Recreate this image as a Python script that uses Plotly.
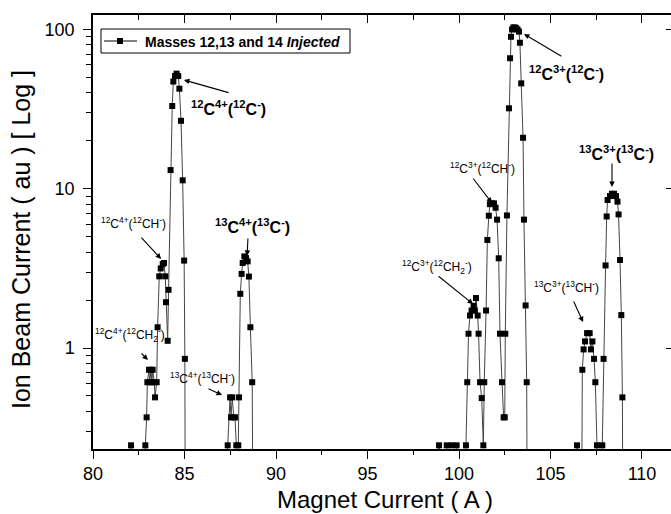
import plotly.graph_objects as go

# ---------------- data ----------------
# Magnet current (A) and ion beam current (au); 0 = no signal (below log axis)
current_12c4 = [82.00, 82.08, 82.15, 82.80, 82.86, 82.93, 82.97, 83.06, 83.10, 83.17,
                83.22, 83.26, 83.35, 83.39, 83.48, 83.53, 83.62, 83.70, 83.81, 83.88,
                83.95, 83.99, 84.08, 84.13, 84.24, 84.33, 84.39, 84.48, 84.57, 84.66,
                84.72, 84.81, 84.90, 84.98, 85.02, 85.06]
signal_12c4 = [0, 0.245, 0, 0, 0.245, 0.367, 0.61, 0.73, 0.61, 0.73,
               0.61, 0.73, 0.61, 0.49, 0.61, 1.35, 2.82, 3.16, 3.37, 3.42,
               2.82, 1.94, 1.11, 2.32, 13.1, 33.1, 47.1, 51.1, 52.8, 51.0,
               42.5, 26.7, 11.3, 3.54, 0.855, 0]

current_13c4 = [87.30, 87.36, 87.49, 87.54, 87.61, 87.69, 87.76, 87.83, 87.94, 87.98,
                88.05, 88.12, 88.18, 88.27, 88.36, 88.45, 88.52, 88.60, 88.70, 88.78]
signal_13c4 = [0, 0.245, 0.49, 0.367, 0.49, 0.367, 0.367, 0.245, 0.245, 0.49,
               2.19, 2.92, 3.42, 3.76, 3.67, 3.5, 2.81, 1.35, 0.61, 0]

current_12c3 = [98.85, 98.91, 98.97, 99.27, 99.33, 99.60, 99.87, 99.93, 100.32, 100.38,
                100.45, 100.52, 100.60, 100.69, 100.80, 100.86, 100.93, 101.02, 101.07, 101.15,
                101.24, 101.33, 101.38, 101.48, 101.55, 101.63, 101.69, 101.80, 101.91, 102.00,
                102.08, 102.17, 102.24, 102.35, 102.44, 102.50, 102.53, 102.62, 102.73, 102.79,
                102.84, 102.90, 102.97, 103.05, 103.12, 103.20, 103.28, 103.33, 103.40, 103.50,
                103.55, 103.64, 103.70, 103.75]
signal_12c3 = [0, 0.245, 0, 0, 0.245, 0.245, 0.245, 0, 0, 0.245,
               0.61, 1.23, 1.6, 1.72, 1.84, 1.72, 2.06, 1.6, 1.23, 0.61,
               0.485, 0.245, 0.61, 1.72, 4.77, 6.77, 8.0, 8.1, 8.1, 7.6,
               6.4, 3.66, 1.23, 0.61, 0.367, 0.367, 1.23, 6.8, 32.0, 66.0,
               90.0, 100.0, 103.0, 103.0, 102.0, 100.0, 97.0, 82.6, 45.9, 20.9,
               6.4, 1.85, 0.61, 0]

current_13c3 = [106.40, 106.45, 106.50, 106.66, 106.74, 106.81, 106.89, 107.00, 107.14, 107.21,
                107.29, 107.38, 107.45, 107.54, 107.60, 107.78, 107.83, 107.90, 108.01, 108.07,
                108.12, 108.25, 108.36, 108.47, 108.58, 108.66, 108.72, 108.80, 108.87, 108.93,
                108.98]
signal_13c3 = [0, 0.245, 0, 0, 0.73, 0.98, 1.1, 1.24, 1.24, 0.98,
               1.1, 0.855, 0.61, 0.245, 0, 0, 0.245, 0.855, 3.3, 6.7,
               8.5, 9.0, 9.3, 9.3, 9.0, 8.3, 6.9, 3.57, 1.61, 0.49,
               0]

x_ticks = [80, 85, 90, 95, 100, 105, 110]
y_ticks = [1, 10, 100]
y_ticktext = ["1", "10", "100"]

series_name = "<b>Masses 12,13 and 14 <i>Injected</i></b>"

# peak labels: (text, label x, label log10 y, font size, bold, arrow head x, head log y, tail x, tail log y)
labels = [
    ("<sup>12</sup>C<sup>4+</sup>(<sup>12</sup>C<sup>-</sup>)", 87.38, 1.507, 16, True, 84.97, 1.683, 87.49, 1.601),
    ("<sup>12</sup>C<sup>4+</sup>(<sup>12</sup>CH<sup>-</sup>)", 82.24, 0.785, 12, False, 83.72, 0.559, 82.57, 0.703),
    ("<sup>12</sup>C<sup>4+</sup>(<sup>12</sup>CH<sub>2</sub><sup>-</sup>)", 82.02, 0.082, 12, False, 83.00, -0.075, 82.57, -0.025),
    ("<sup>13</sup>C<sup>4+</sup>(<sup>13</sup>C<sup>-</sup>)", 88.74, 0.766, 16, True, 88.42, 0.578, 88.47, 0.697),
    ("<sup>13</sup>C<sup>4+</sup>(<sup>13</sup>CH<sup>-</sup>)", 85.96, -0.188, 12, False, 87.05, -0.295, 86.23, -0.251),
    ("<sup>12</sup>C<sup>3+</sup>(<sup>12</sup>C<sup>-</sup>)", 105.90, 1.727, 16, True, 103.55, 1.972, 105.68, 1.827),
    ("<sup>13</sup>C<sup>3+</sup>(<sup>13</sup>C<sup>-</sup>)", 108.63, 1.224, 16, True, 108.36, 1.011, 108.36, 1.168),
    ("<sup>12</sup>C<sup>3+</sup>(<sup>12</sup>CH<sup>-</sup>)", 101.26, 1.130, 12, False, 101.80, 0.911, 100.71, 1.074),
    ("<sup>12</sup>C<sup>3+</sup>(<sup>12</sup>CH<sub>2</sub><sup>-</sup>)", 98.80, 0.509, 12, False, 100.77, 0.276, 98.80, 0.458),
    ("<sup>13</sup>C<sup>3+</sup>(<sup>13</sup>CH<sup>-</sup>)", 105.85, 0.383, 12, False, 106.78, 0.163, 106.23, 0.301),
]

# ---------------- figure ----------------
FONT = "Arial, Liberation Sans, sans-serif"
X_RANGE = [80, 111.585]
Y_RANGE = [-0.634, 2.091]
FLOOR = 0.01  # zero readings are drawn below the visible log range
W, H = 671, 514
ML, MR, MT, MB = 93, 0, 15, 65
PW, PH = W - ML - MR, H - MT - MB


def px(xp):
    return (xp - ML) / PW


def py(yp):
    return (H - MB - yp) / PH


xs = current_12c4 + current_13c4 + current_12c3 + current_13c3
ys_raw = signal_12c4 + signal_13c4 + signal_12c3 + signal_13c3
ys = [v if v > 0 else FLOOR for v in ys_raw]

LINE_COLOR = "#444444"

fig = go.Figure()
fig.add_trace(go.Scatter(
    x=xs, y=ys, mode="lines+markers", name=series_name,
    line=dict(color=LINE_COLOR, width=1),
    marker=dict(symbol="square", size=6, color="black"),
    cliponaxis=True, hoverinfo="x+y", showlegend=False,
))
# helper trace so the mirrored top/right axes are drawn
fig.add_trace(go.Scatter(x=[95], y=[1], xaxis="x2", yaxis="y2", mode="markers",
                         marker=dict(opacity=0), showlegend=False, hoverinfo="skip"))

minor_x = [v + 2.5 for v in x_ticks[:-1]]
minor_y = [m * d for d in (0.1, 1, 10) for m in range(2, 10) if 0.23 < m * d < 123]

axis_common = dict(showgrid=False, zeroline=False, linecolor="black", tickcolor="black")

fig.update_layout(
    width=W, height=H,
    margin=dict(l=ML, r=MR, t=MT, b=MB),
    paper_bgcolor="white", plot_bgcolor="white",
    font=dict(family=FONT, color="black"),
    showlegend=False,
    xaxis=dict(range=X_RANGE, tickvals=x_ticks, ticks="outside", ticklen=8, tickwidth=1.2,
               showline=True, linewidth=1.5, tickfont=dict(size=18),
               minor=dict(tickvals=minor_x, ticks="outside", ticklen=4, tickwidth=1.2, tickcolor="black"),
               **axis_common),
    xaxis2=dict(range=X_RANGE, overlaying="x", side="top", tickvals=x_ticks, ticks="inside",
                ticklen=8, tickwidth=1.2, showline=True, linewidth=1.5, showticklabels=False,
                minor=dict(tickvals=minor_x, ticks="inside", ticklen=5, tickwidth=1.2, tickcolor="black"),
                **axis_common),
    yaxis=dict(type="log", range=Y_RANGE, tickvals=y_ticks, ticktext=y_ticktext,
               ticks="outside", ticklen=8, tickwidth=1.2, showline=True, linewidth=1.5,
               tickfont=dict(size=18), ticklabelstandoff=5,
               minor=dict(tickvals=minor_y, ticks="outside", ticklen=5, tickwidth=1.2, tickcolor="black"),
               **axis_common),
    yaxis2=dict(type="log", range=Y_RANGE, overlaying="y", side="right", tickvals=y_ticks,
                ticks="inside", ticklen=5, tickwidth=1.2, showline=False, showticklabels=False,
                **axis_common),
)

# legend box drawn by hand (frame, line sample, square symbol)
shapes = [
    dict(type="rect", xref="paper", yref="paper", x0=px(101), x1=px(350), y0=py(53), y1=py(29),
         line=dict(color="black", width=1), fillcolor="white", layer="above"),
    dict(type="line", xref="paper", yref="paper", x0=px(104), x1=px(137), y0=py(41), y1=py(41),
         line=dict(color="black", width=1), layer="above"),
    dict(type="rect", xref="paper", yref="paper", x0=px(117), x1=px(123), y0=py(44), y1=py(38),
         line=dict(color="black", width=0), fillcolor="black", layer="above"),
]
fig.update_layout(shapes=shapes)

anns = [dict(x=px(143), y=py(41.5), xref="paper", yref="paper", text=series_name, showarrow=False,
             xanchor="left", yanchor="middle", font=dict(size=14, family=FONT, color="black"))]
for text, lx, ly, size, bold, hx, hy, tx, ty in labels:
    t = f"<b>{text}</b>" if bold else text
    anns.append(dict(x=lx, y=ly, xref="x", yref="y", text=t, showarrow=False,
                     font=dict(size=size, family=FONT, color="black"),
                     xanchor="center", yanchor="middle"))
    anns.append(dict(x=hx, y=hy, xref="x", yref="y", ax=tx, ay=ty, axref="x", ayref="y",
                     text="", showarrow=True, arrowhead=2, arrowsize=1, arrowwidth=1.1,
                     arrowcolor="black", standoff=0, startstandoff=0))

anns.append(dict(text="Magnet Current ( A )", x=px(385), y=0, xref="paper", yref="paper",
                 yshift=-50, showarrow=False, xanchor="center", yanchor="middle",
                 font=dict(size=24, family=FONT, color="black")))
anns.append(dict(text="Ion Beam Current ( au ) [ Log ]", x=0, y=py(240), xref="paper", yref="paper",
                 xshift=-72, showarrow=False, textangle=-90, xanchor="center", yanchor="middle",
                 font=dict(size=25, family=FONT, color="black")))
fig.update_layout(annotations=anns)

fig.write_html("out.html")
